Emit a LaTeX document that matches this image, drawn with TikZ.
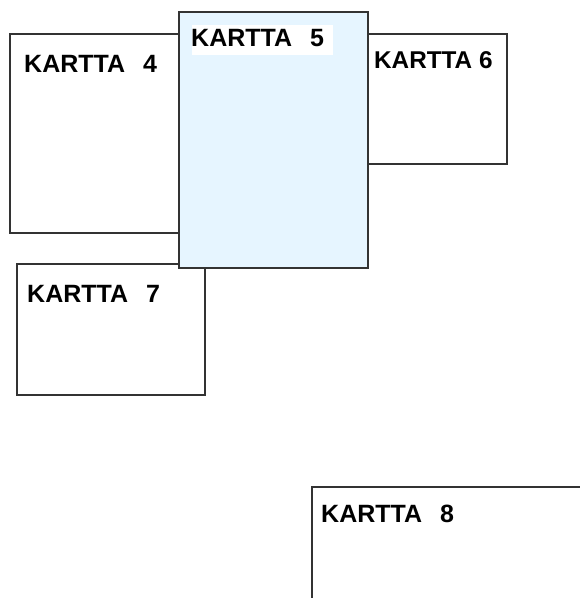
\documentclass[tikz,border=0pt]{standalone}
\usepackage{fontspec}
\setmainfont{Liberation Sans}
\definecolor{mapblue}{HTML}{E6F5FF}
\definecolor{edge}{HTML}{333333}
\newcommand{\gapsp}{\hspace{18pt}}
\begin{document}
\begin{tikzpicture}[x=1pt,y=-1pt,
  mapbox/.style={draw=edge,line width=1.8pt,fill=white},
  maplabel/.style={anchor=base west,inner sep=0pt,font=\fontsize{25}{25}\selectfont\bfseries}]
\useasboundingbox (0,0) rectangle (580,598);
\clip (0,0) rectangle (580,598);
% KARTTA 4
\draw[mapbox] (10,34) rectangle (180,233);
\node[maplabel] (l4) at (24,72) {KARTTA\gapsp 4};
% KARTTA 6
\draw[mapbox] (360,34) rectangle (507,164);
\node[maplabel,font=\fontsize{24.3}{24}\selectfont\bfseries] (l6) at (374,68) {KARTTA 6};
% KARTTA 7
\draw[mapbox] (17,264) rectangle (205,395);
\node[maplabel] (l7) at (27,302) {KARTTA\gapsp 7};
% KARTTA 8
\draw[mapbox] (312,487) rectangle (600,620);
\node[maplabel] (l8) at (321,522) {KARTTA\gapsp 8};
% KARTTA 5
\draw[mapbox,fill=mapblue] (179,12) rectangle (368,268);
\fill[white] (192,25) rectangle (333,55);
\node[maplabel] (l5) at (191,46) {KARTTA\gapsp 5};
\end{tikzpicture}
\end{document}
